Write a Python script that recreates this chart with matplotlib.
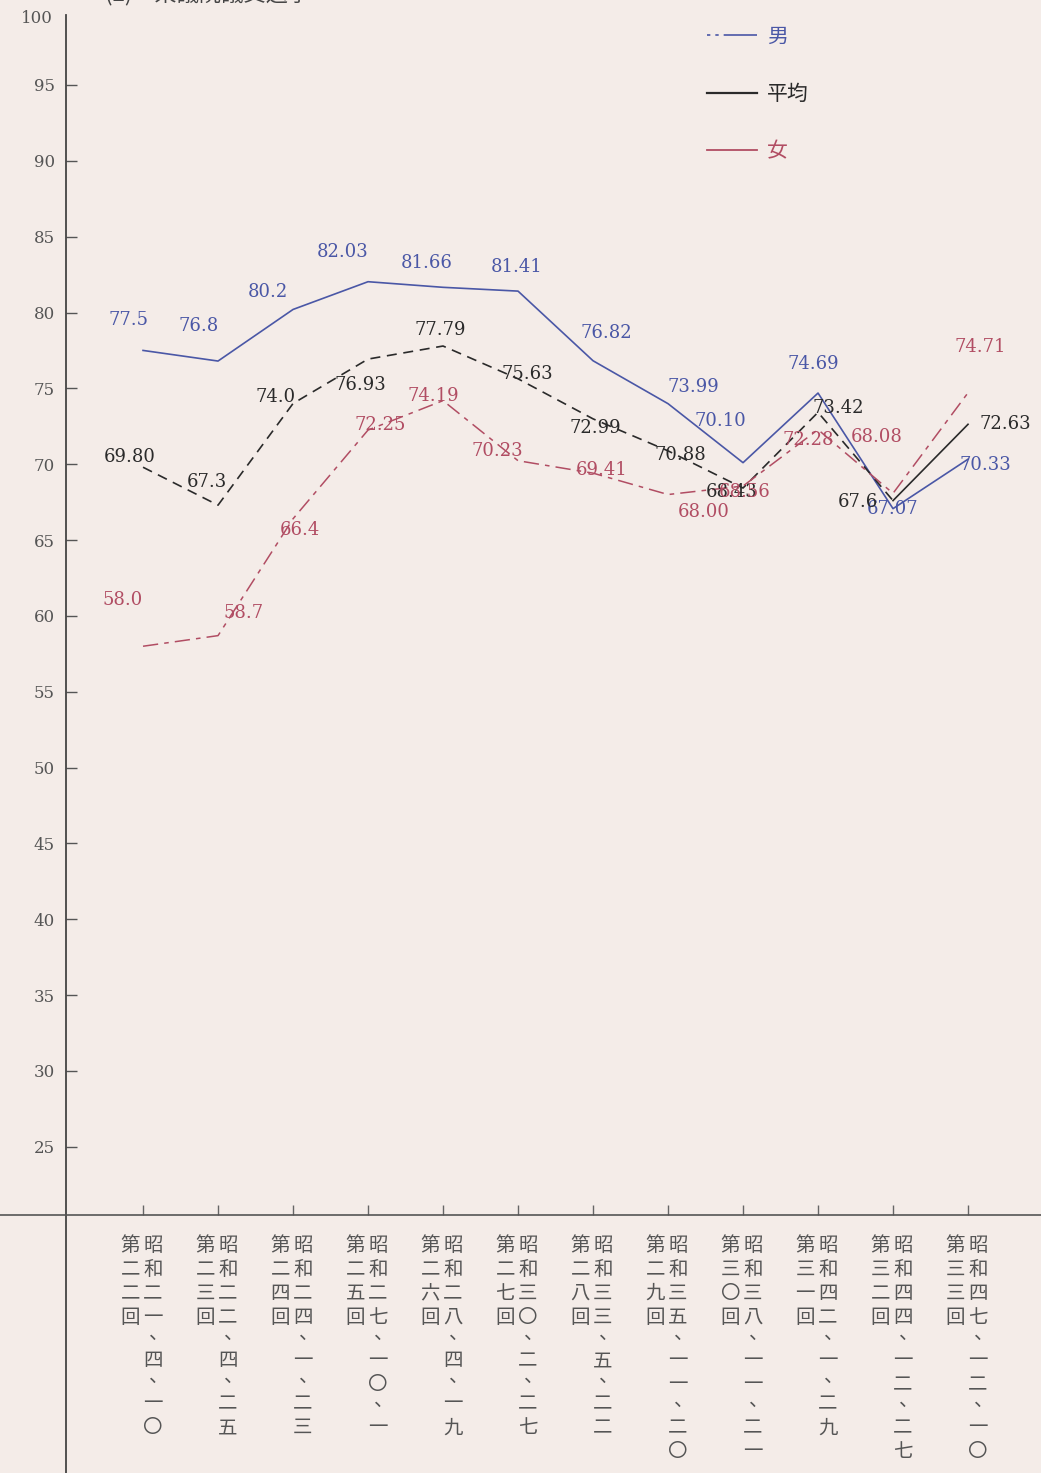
import numpy as np
import matplotlib.pyplot as plt
from matplotlib.lines import Line2D

plt.rcParams['font.family'] = ['Noto Sans CJK JP', 'DejaVu Sans']

# 選挙の回と期日 (縦書きで2列に並べる)
kaisu = ['第二二回', '第二三回', '第二四回', '第二五回', '第二六回', '第二七回',
         '第二八回', '第二九回', '第三〇回', '第三一回', '第三二回', '第三三回']
kijitsu = ['昭和二一、四、一〇', '昭和二二、四、二五', '昭和二四、一、二三',
           '昭和二七、一〇、一', '昭和二八、四、一九', '昭和三〇、二、二七',
           '昭和三三、五、二二', '昭和三五、一一、二〇', '昭和三八、一一、二一',
           '昭和四二、一、二九', '昭和四四、一二、二七', '昭和四七、一二、一〇']

# 投票率 (%)  図に書かれた数字のまま
otoko_txt = ['77.5', '76.8', '80.2', '82.03', '81.66', '81.41',
             '76.82', '73.99', '70.10', '74.69', '67.07', '70.33']
heikin_txt = ['69.80', '67.3', '74.0', '76.93', '77.79', '75.63',
              '72.99', '70.88', '68.43', '73.42', '67.6', '72.63']
onna_txt = ['58.0', '58.7', '66.4', '72.25', '74.19', '70.23',
            '69.41', '68.00', '68.56', '72.28', '68.08', '74.71']

otoko = [float(s) for s in otoko_txt]
heikin = [float(s) for s in heikin_txt]
onna = [float(s) for s in onna_txt]

# 数字ラベルのずらし量 (ピクセル)
off_otoko = [(-15, 30), (-19, 35), (-25, 17), (-25, 30), (-16, 24), (-1, 24),
             (13, 28), (25, 17), (-23, 42), (-5, 29), (0, 0), (17, -6)]
off_heikin = [(-13, 10), (-11, 23), (-17, 7), (-8, -26), (-3, 16), (9, 5),
              (2, -9), (12, -4), (-11, -4), (20, 4), (-35, -1), (37, 0)]
off_onna = [(-20, 46), (26, 23), (7, -11), (12, 5), (-10, 5), (-21, 10),
            (9, 3), (36, -17), (2, -6), (-10, -10), (-16, 56), (12, 46)]

PAPER = '#f4ece8'
AO = '#4a57a6'
KURO = '#2a2a2a'
AKA = '#b14d63'

x = np.arange(len(kaisu))

fig = plt.figure(figsize=(10.41, 14.73), dpi=100, facecolor=PAPER)
ax = fig.add_axes([0, 0, 1, 1])
ax.set_facecolor(PAPER)
ax.set_xlim(-1.907, 11.973)
ax.set_ylim(3.5, 100.6)

# 軸
ax.spines[['top', 'right']].set_visible(False)
ax.spines['left'].set_position(('data', -1.027))
ax.spines['left'].set_bounds(3.5, 99.6)
ax.spines['left'].set_color('#444')
ax.spines['left'].set_linewidth(1.3)
ax.spines['bottom'].set_position(('data', 20.5))
ax.spines['bottom'].set_color('#555')
ax.spines['bottom'].set_linewidth(1.2)

ax.set_yticks(np.arange(25, 100, 5))
ax.tick_params(axis='y', direction='in', length=8, width=1, colors='#555',
               labelsize=12, pad=8)
for lab in ax.get_yticklabels():
    lab.set_fontfamily('DejaVu Serif')
ax.text(-1.2, 99.4, '100', ha='right', va='center', fontsize=12,
        color='#555', family='DejaVu Serif')
ax.set_xticks(x)
ax.tick_params(axis='x', direction='in', length=7, width=1, colors='#666',
               labelbottom=False)

# 折れ線
ax.plot(x, otoko, color=AO, lw=1.2)
ax.plot(x[:11], heikin[:11], color=KURO, lw=1.2, dashes=(6, 4))
ax.plot(x[10:], heikin[10:], color=KURO, lw=1.2)
ax.plot(x, onna, color=AKA, lw=1.1, dashes=(10, 4, 3, 4))

# 数字ラベル
for vals, txts, offs, col in [(otoko, otoko_txt, off_otoko, AO),
                              (heikin, heikin_txt, off_heikin, KURO),
                              (onna, onna_txt, off_onna, AKA)]:
    for i in range(len(vals)):
        ax.annotate(txts[i], (x[i], vals[i]), xytext=offs[i],
                    textcoords='offset pixels', ha='center', va='center',
                    fontsize=13, color=col, family='DejaVu Serif')

# 縦書きの横軸ラベル
pitch = 24 / 15.17
top = 18.5


def tategaki(xc, s, color='#555'):
    y = top
    prev = None
    for ch in s:
        size = 0.8 if ch == '、' else 1.0
        if prev is not None:
            y -= (prev + size) / 2 * pitch
        if ch == '、':
            # 縦書きの読点は升目の右上に寄せる
            ax.text(xc + 0.08, y + 0.25 * pitch, ch, ha='center',
                    va='center', fontsize=14, color=color)
        else:
            ax.text(xc, y, ch, ha='center', va='center', fontsize=14,
                    color=color)
        prev = size


for i in range(len(kaisu)):
    tategaki(x[i] - 0.17, kaisu[i])
    tategaki(x[i] + 0.13, kijitsu[i])

# 凡例
handles = [Line2D([], [], color=AO, lw=1.2, dashes=(2, 3, 2, 3, 30, 2)),
           Line2D([], [], color=KURO, lw=1.6),
           Line2D([], [], color=AKA, lw=1.3)]
leg = ax.legend(handles, ['男', '平均', '女'], loc='upper left',
                bbox_to_anchor=(688 / 1041, 1 - 7 / 1473), frameon=False,
                fontsize=15, handlelength=2.4, labelspacing=1.7,
                handletextpad=0.5)
for t, c in zip(leg.get_texts(), [AO, KURO, AKA]):
    t.set_color(c)

# 上端で切れている表題
fig.text(105 / 1041, 1 + 6 / 1473, '(2)　衆議院議員選挙', ha='left',
         va='center', fontsize=16, color='#444')

fig.savefig('out.png', dpi=100, facecolor=PAPER)
